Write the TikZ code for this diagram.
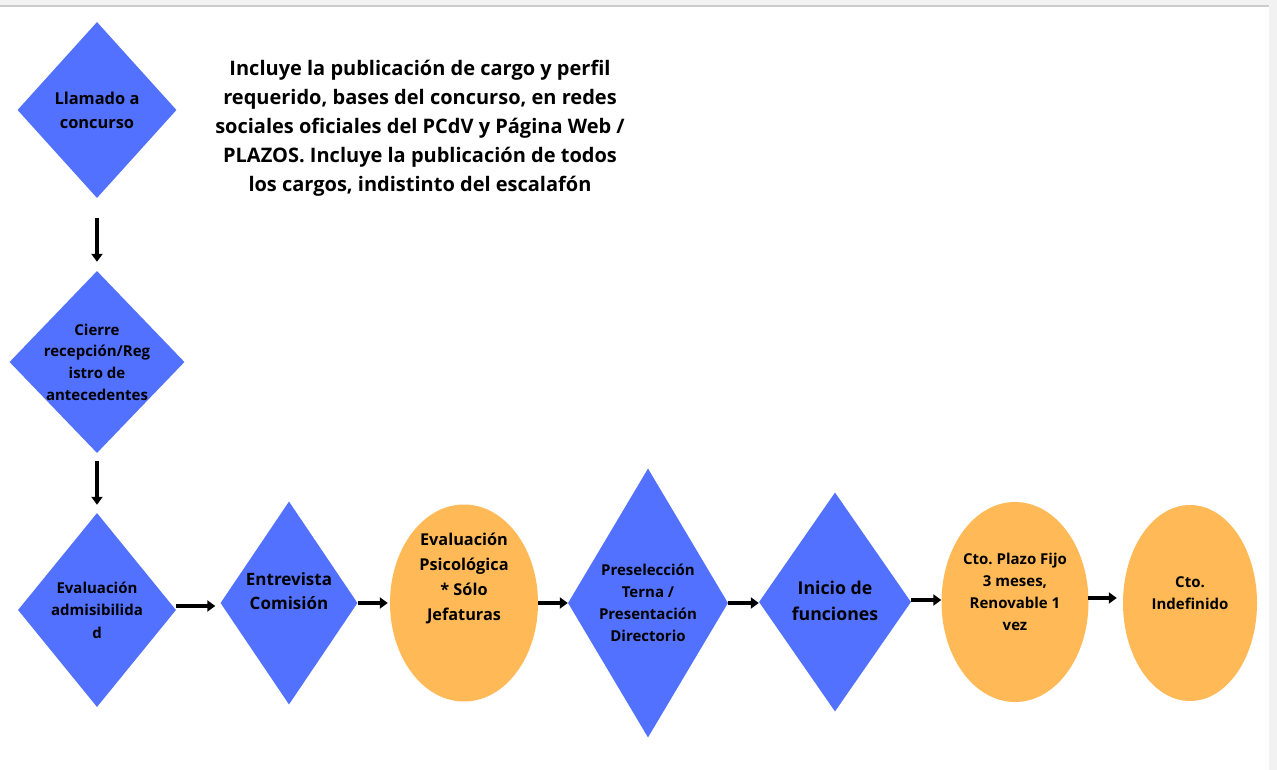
\documentclass[tikz,border=0pt]{standalone}
\usepackage{fontspec}
\setmainfont{Open Sans}
\usetikzlibrary{shapes.geometric,arrows.meta}

\definecolor{pasoazul}{RGB}{82,113,255}
\definecolor{pasonaranja}{RGB}{255,186,87}
\definecolor{marcogris}{RGB}{242,242,242}
\definecolor{lineagris}{RGB}{204,204,204}

\tikzset{
    paso/.style={diamond, fill=pasoazul, inner sep=0pt},
    contrato/.style={ellipse, fill=pasonaranja, inner sep=0pt},
    rotulo/.style={align=center, text=black, font=\bfseries\fontsize{15}{22}\selectfont},
    flecha/.style={line width=3.5pt, -{Triangle[length=8pt,width=11pt]}}
}

\begin{document}
\frenchspacing
\begin{tikzpicture}[x=1pt, y=-1pt]
    \useasboundingbox (0,0) rectangle (1277,770);
    % marco de la captura
    \fill[white] (0,0) rectangle (1277,770);
    \fill[marcogris] (0,0) rectangle (1277,5);
    \fill[marcogris] (1269,0) rectangle (1277,770);
    \draw[lineagris, line width=1.5pt] (0,6) -- (1269,6);

    % etapas del concurso
    \node[paso, minimum width=159pt, minimum height=176pt] (llamado) at (97,110) {};
    \node[paso, minimum width=175pt, minimum height=182pt] (cierre) at (97,362) {};
    \node[paso, minimum width=158pt, minimum height=194pt] (admis) at (97,610) {};
    \node[paso, minimum width=137pt, minimum height=203pt] (entrevista) at (289,603) {};
    \node[contrato, minimum width=148pt, minimum height=197pt] (psico) at (464,603) {};
    \node[paso, minimum width=160pt, minimum height=269pt] (presel) at (648,603) {};
    \node[paso, minimum width=152pt, minimum height=219pt] (inicio) at (835,602) {};
    \node[contrato, minimum width=147pt, minimum height=200pt] (plazo) at (1015,602) {};
    \node[contrato, minimum width=134pt, minimum height=196pt] (indef) at (1190,603) {};

    % textos
    \node[rotulo, font=\bfseries\fontsize{20}{29}\selectfont] (nota) at (420,128)
        {Incluye la publicación de cargo y perfil\\
         requerido, bases del concurso, en redes\\
         sociales oficiales del PCdV y Página Web /\\
         PLAZOS. Incluye la publicación de todos\\
         los cargos, indistinto del escalafón};
    \node[rotulo, font=\bfseries\fontsize{16.4}{24}\selectfont] (llamado-t) at (llamado) {Llamado a\\concurso};
    \node[rotulo, font=\bfseries\fontsize{15}{21.7}\selectfont] (cierre-t) at (97,362)
        {Cierre\\recepción/Reg\\istro de\\antecedentes};
    \node[rotulo, font=\bfseries\fontsize{15}{22.5}\selectfont] (admis-t) at (admis)
        {Evaluación\\admisibilida\\d};
    \node[rotulo, font=\bfseries\fontsize{17}{24}\selectfont] (entrevista-t) at (289,591)
        {Entrevista\\Comisión};
    \node[rotulo, font=\bfseries\fontsize{16.3}{25}\selectfont] (psico-t) at (464,578)
        {Evaluación\\Psicológica\\* Sólo\\Jefaturas};
    \node[rotulo] (presel-t) at (presel)
        {Preselección\\Terna /\\Presentación\\Directorio};
    \node[rotulo, font=\bfseries\fontsize{17.7}{26}\selectfont] (inicio-t) at (835,601)
        {Inicio de\\funciones};
    \node[rotulo] (plazo-t) at (1015,592) {Cto. Plazo Fijo\\3 meses,\\Renovable 1\\vez};
    \node[rotulo] (indef-t) at (1190,593) {Cto.\\Indefinido};

    % flechas
    \draw[flecha, shorten <=20pt, shorten >=9pt] (llamado) -- (cierre);
    \draw[flecha, shorten <=8pt, shorten >=8pt] (cierre) -- (admis);
    \draw[flecha, shorten >=5pt] ([yshift=4pt]admis.east) -- ([yshift=4pt]admis.east -| entrevista.west);
    \draw[flecha, shorten >=2pt] (entrevista.east) -- (entrevista.east -| psico.west);
    \draw[flecha] (psico.east) -- (psico.east -| presel.west);
    \draw[flecha] (presel.east) -- (presel.east -| inicio.west);
    \draw[flecha] ([yshift=2pt]inicio.east) -- ([yshift=2pt]inicio.east -| plazo.west);
    \draw[flecha, shorten <=-1pt, shorten >=6pt] ([yshift=4pt]plazo.east) -- ([yshift=4pt]plazo.east -| indef.west);
\end{tikzpicture}
\end{document}
